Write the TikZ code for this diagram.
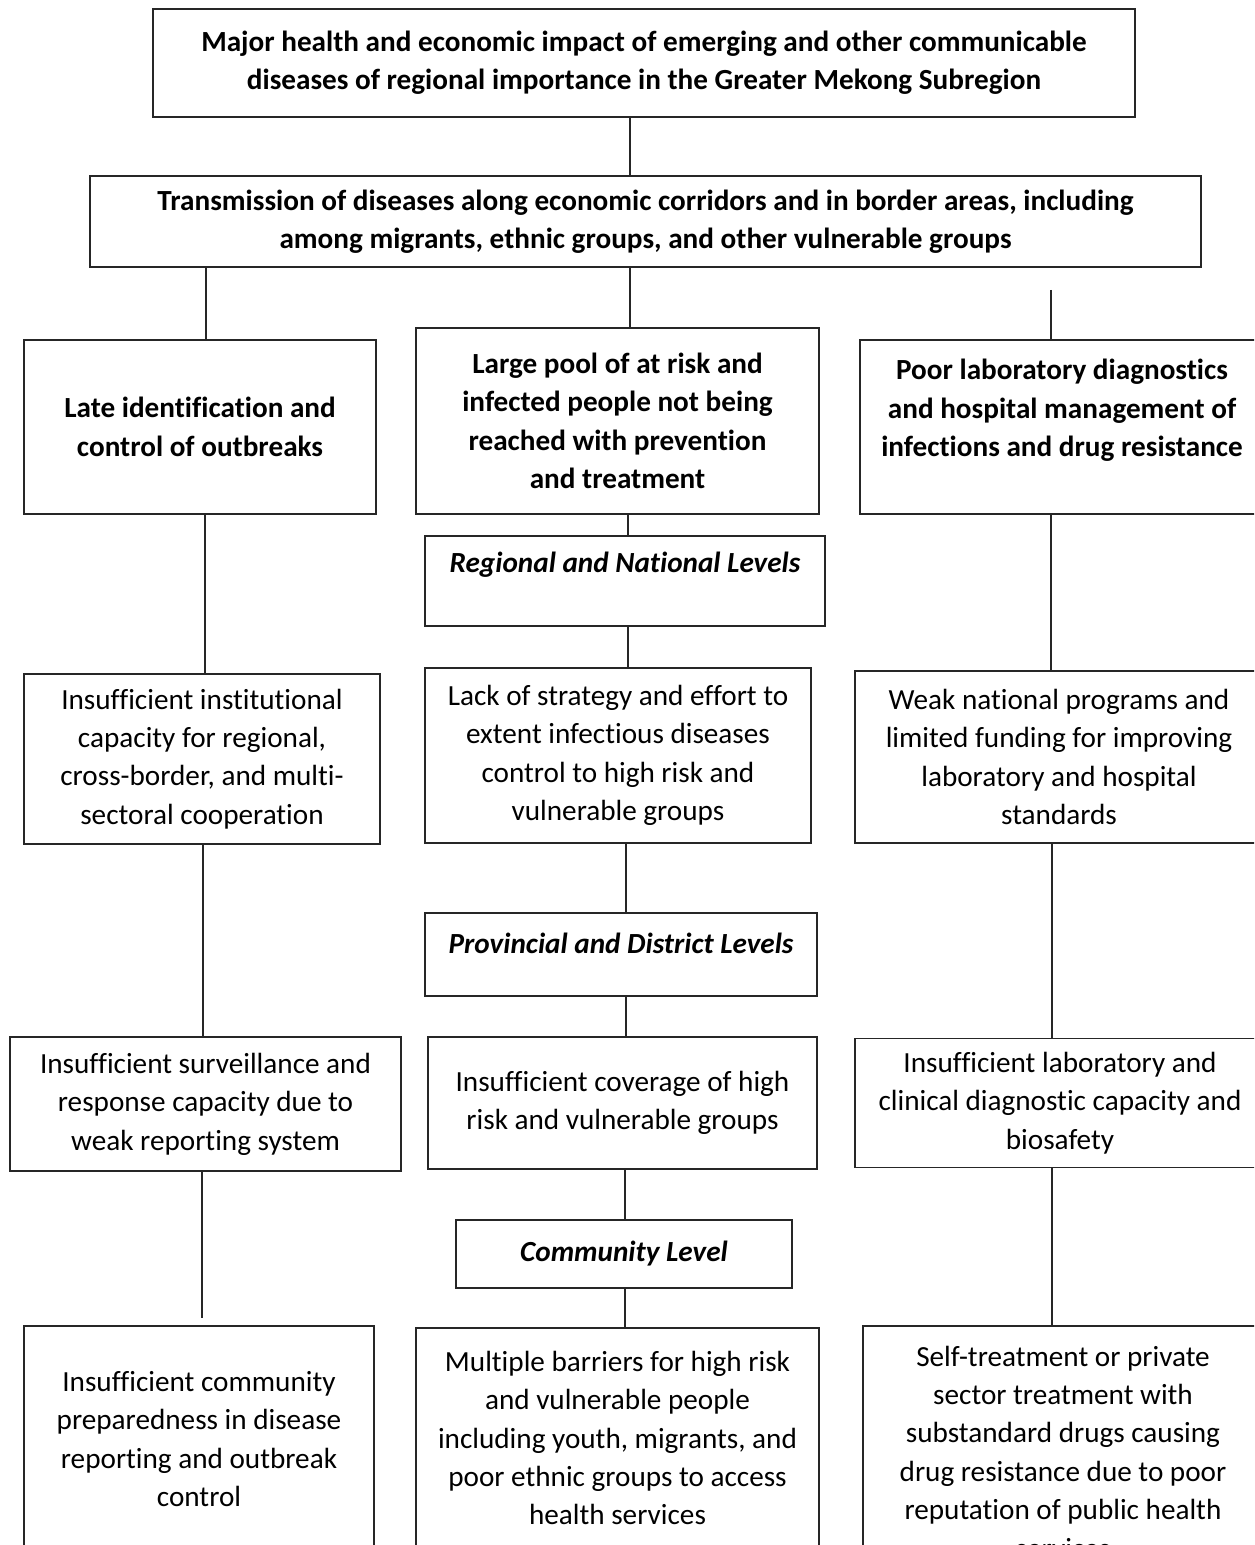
\documentclass[tikz,border=0pt]{standalone}
\usepackage{fontspec}
\setmainfont{Carlito}[Ligatures={NoCommon}]
\usetikzlibrary{positioning}

\begin{document}
\begin{tikzpicture}[
  x=0.5pt, y=-0.5pt,
  every node/.style={font=\fontsize{14.6}{19.2}\selectfont},
  box/.style 2 args={rectangle, draw=black!85, line width=0.65pt, align=center,
             inner sep=0pt, minimum width=#1*0.5pt, minimum height=#2*0.5pt},
  head/.style={font=\fontsize{14.6}{19.2}\selectfont\bfseries},
  lvl/.style={font=\fontsize{14.6}{19.2}\selectfont\bfseries\itshape},
  link/.style={draw=black!85, line width=0.65pt}
]
\useasboundingbox (0,0) rectangle (1254,1545);
\clip (0,0) rectangle (1254,1545);

% Problem and core causes
\node[box={982}{108}, head] (impact) at (644,63)
  {Major health and economic impact of emerging and other communicable\\
   diseases of regional importance in the Greater Mekong Subregion};
\node[box={1111}{91}, head] (transmit) at (645.5,221.5)
  {Transmission of diseases along economic corridors and in border areas, including\\
   among migrants, ethnic groups, and other vulnerable groups};

\node[box={352}{174}, head] (late) at (200,427)
  {Late identification and\\control of outbreaks};
\node[box={403}{186}, head] (pool) at (617.5,421)
  {Large pool of at risk and\\infected people not being\\reached with prevention\\and treatment};
\node[box={404}{174}, head] (poorlab) at (1062,427)
  {Poor laboratory diagnostics\\and hospital management of\\infections and drug resistance\\ \mbox{}};

% Regional and national levels
\node[box={400}{90}, lvl] (regional) at (625,581)
  {Regional and National Levels\\ \mbox{}};
\node[box={356}{170}] (instcap) at (202,759)
  {Insufficient institutional\\capacity for regional,\\cross-border, and multi-\\sectoral cooperation};
\node[box={386}{175}] (strategy) at (618,755.5)
  {Lack of strategy and effort to\\extent infectious diseases\\control to high risk and\\vulnerable groups};
\node[box={408}{172}] (weakprog) at (1059,757)
  {Weak national programs and\\limited funding for improving\\laboratory and hospital\\standards};

% Provincial and district levels
\node[box={392}{83}, lvl, text depth=23*0.5pt] (provincial) at (621,954.5)
  {Provincial and District Levels};
\node[box={391}{134}] (surveil) at (205.5,1104)
  {Insufficient surveillance and\\response capacity due to\\weak reporting system};
\node[box={389}{132}] (coverage) at (622.5,1103)
  {Insufficient coverage of high\\risk and vulnerable groups};
\node[box={410}{129}] (labcap) at (1060,1103)
  {Insufficient laboratory and\\clinical diagnostic capacity and\\biosafety};

% Community level
\node[box={336}{68}, lvl] (community) at (624,1254)
  {Community Level};
\node[box={350}{226}] (prepared) at (199,1439)
  {Insufficient community\\preparedness in disease\\reporting and outbreak\\control};
\node[box={403}{220}] (barriers) at (617.5,1438)
  {Multiple barriers for high risk\\and vulnerable people\\including youth, migrants, and\\poor ethnic groups to access\\health services};
\node[box={400}{252}] (selftreat) at (1063,1452)
  {Self-treatment or private\\sector treatment with\\substandard drugs causing\\drug resistance due to poor\\reputation of public health\\services};

% Column positions and free ends
\coordinate (m1) at (630,0);
\coordinate (m2) at (628,0);
\coordinate (m3) at (626,0);
\coordinate (m4) at (625,0);
\coordinate (l1) at (206,0);
\coordinate (l2) at (205,0);
\coordinate (l3) at (203,0);
\coordinate (r1) at (1051,0);
\coordinate (r3) at (1052,0);
\coordinate (rtop) at (1051,290);
\coordinate (lend) at (202,1318);

% Links
\draw[link] (impact.south -| m1) -- (transmit.north -| m1);
\draw[link] (transmit.south -| m1) -- (pool.north -| m1);
\draw[link] (transmit.south -| l1) -- (late.north -| l1);
\draw[link] (rtop) -- (poorlab.north -| rtop);

\draw[link] (pool.south -| m2) -- (regional.north -| m2);
\draw[link] (regional.south -| m2) -- (strategy.north -| m2);
\draw[link] (late.south -| l2) -- (instcap.north -| l2);
\draw[link] (poorlab.south -| r1) -- (weakprog.north -| r1);

\draw[link] (strategy.south -| m3) -- (provincial.north -| m3);
\draw[link] (provincial.south -| m3) -- (coverage.north -| m3);
\draw[link] (instcap.south -| l3) -- (surveil.north -| l3);
\draw[link] (weakprog.south -| r3) -- (labcap.north -| r3);

\draw[link] (coverage.south -| m4) -- (community.north -| m4);
\draw[link] (community.south -| m4) -- (barriers.north -| m4);
\draw[link] (surveil.south -| lend) -- (lend);
\draw[link] (labcap.south -| r3) -- (selftreat.north -| r3);

\end{tikzpicture}
\end{document}
